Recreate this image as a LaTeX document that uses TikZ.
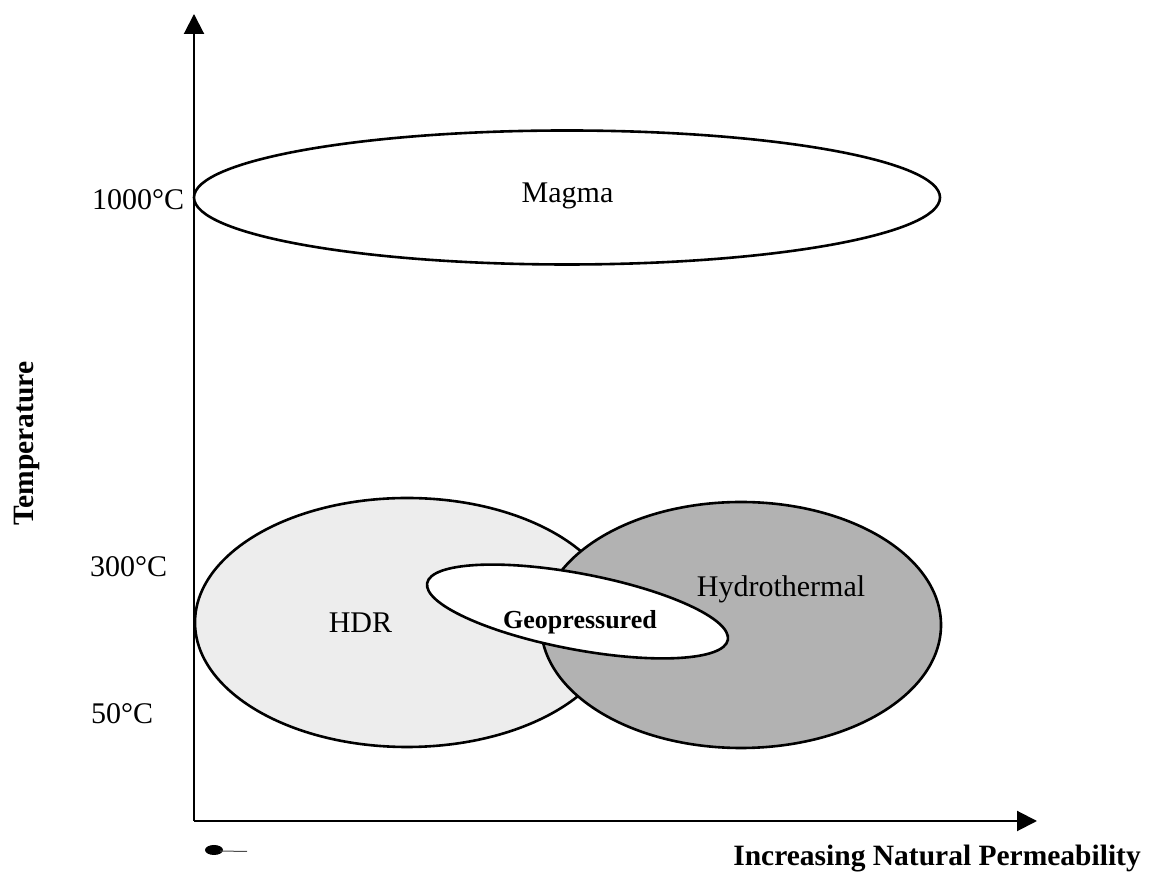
\documentclass[tikz,border=0pt]{standalone}
\usepackage{fontspec}
\setmainfont{Liberation Serif}
\usetikzlibrary{arrows.meta,shapes.geometric}
\begin{document}
\begin{tikzpicture}[x=1pt,y=1pt,
  region/.style={draw=black, line width=2.6pt, ellipse, inner sep=0pt, outer sep=0pt},
  axisline/.style={line width=2pt, -{Triangle[length=20pt,width=20pt]}},
  lbl/.style={font=\fontsize{30}{36}\selectfont, inner sep=0pt, anchor=base},
  blbl/.style={font=\bfseries\fontsize{29.5}{35}\selectfont, inner sep=0pt, anchor=base},
]
\useasboundingbox (0,0) rectangle (1151,877);
\fill[white] (0,0) rectangle (1151,877);
% regions
\node[region, minimum width=746pt, minimum height=134pt] (magma) at (567,679.5) {};
\node[region, fill=black!7, minimum width=424pt, minimum height=249pt] (hdr) at (407,254.5) {};
\node[region, fill=black!30, minimum width=400pt, minimum height=246pt] (hydro) at (741,252) {};
\node[region, fill=white, rotate=-10.7, minimum width=306pt, minimum height=76pt] (geo) at (577.5,265.5) {};
% axes
\coordinate (origin) at (194,56);
\coordinate (ytip) at (194,863);
\coordinate (xtip) at (1037,56);
\draw[axisline] (origin) -- (ytip);
\draw[axisline] (origin) -- (xtip);
% labels
\node[lbl] (magmalbl) at (567.5,674) {Magma};
\node[lbl] (hdrlbl) at (360.5,244) {HDR};
\node[lbl] (hydrolbl) at (781,280) {Hydrothermal};
\node[blbl, font=\bfseries\fontsize{26}{31}\selectfont] (geolbl) at (580,248.7) {Geopressured};
\node[lbl, anchor=base west] (t1000) at (92,667) {1000°C};
\node[lbl, anchor=base west] (t300) at (90,300) {300°C};
\node[lbl, anchor=base west] (t50) at (91,153) {50°C};
\node[blbl, rotate=90] (ylab) at (33,433.5) {Temperature};
\node[blbl, anchor=base east] (xlab) at (1141,11) {Increasing Natural Permeability};
% smudge
\fill (214,27) ellipse (9pt and 5pt);
\draw[line width=1pt, black!70] (220,26) -- (247,25.5);
\end{tikzpicture}
\end{document}
